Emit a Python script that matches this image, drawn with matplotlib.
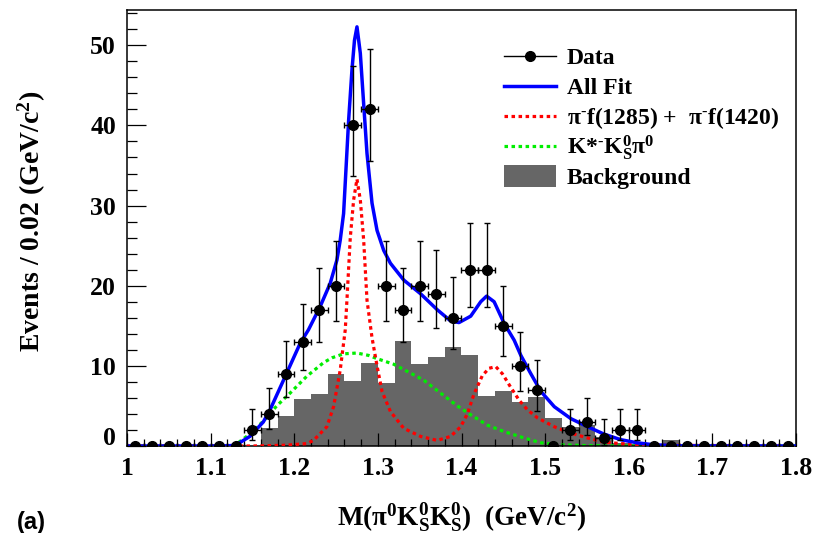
import numpy as np
import matplotlib
matplotlib.use('Agg')
import matplotlib.pyplot as plt
import matplotlib.transforms as mtransforms
from matplotlib.lines import Line2D
from matplotlib.patches import Rectangle
from matplotlib.ticker import MultipleLocator

plt.rcParams['font.family'] = 'Liberation Serif'
plt.rcParams['font.weight'] = 'bold'
plt.rcParams['axes.labelweight'] = 'bold'
plt.rcParams['mathtext.fontset'] = 'custom'
plt.rcParams['mathtext.rm'] = 'Liberation Serif:bold'
plt.rcParams['mathtext.it'] = 'Liberation Serif:bold'
plt.rcParams['mathtext.bf'] = 'Liberation Serif:bold'

W, H = 814, 533

# binning: 40 bins of 0.02 GeV between 1.0 and 1.8
edges = np.linspace(1.0, 1.8, 41)
centers = 0.5 * (edges[:-1] + edges[1:])

data_counts = [0, 0, 0, 0, 0, 0, 0,
               2, 4, 9, 13, 17, 20, 40, 42, 20, 17, 20, 19, 16, 22, 22,
               15, 10, 7, 0, 2, 3, 1, 2, 2,
               0, 0, 0, 0, 0, 0, 0, 0, 0]

bkg_counts = [0, 0, 0, 0, 0, 0, 0, 0,
              2.2, 3.8, 5.9, 6.5, 9.0, 8.1, 10.4, 7.9, 13.1, 10.2, 11.1, 12.3,
              11.3, 6.2, 6.9, 5.5, 6.1, 3.5, 2.4, 2.6, 1.1, 0.4,
              0.2, 0.2, 0.8, 0, 0, 0, 0, 0, 0, 0]

# total fit
fit_x = [1.00, 1.10, 1.12, 1.13, 1.147, 1.163, 1.171, 1.191, 1.207, 1.217,
         1.231, 1.243, 1.251, 1.255, 1.259, 1.265, 1.269, 1.272, 1.275, 1.279,
         1.283, 1.287, 1.293, 1.299, 1.307, 1.315, 1.331, 1.351, 1.371, 1.387,
         1.397, 1.411, 1.423, 1.430, 1.439, 1.451, 1.463, 1.471, 1.483, 1.495,
         1.511, 1.531, 1.551, 1.570, 1.590, 1.610, 1.630, 1.660, 1.80]
fit_y = [0, 0, 0.02, 0.1, 1.2, 3.0, 4.5, 9.1, 12.8, 14.5,
         17.4, 20.3, 23.2, 25.7, 29.0, 40.6, 46.9, 50.6, 52.3, 49.0,
         42.7, 36.5, 30.3, 26.9, 24.4, 22.8, 20.7, 19.0, 17.0, 15.6,
         15.4, 16.2, 18.0, 18.7, 18.0, 15.3, 13.2, 11.3, 9.0, 6.8,
         4.9, 3.4, 2.4, 1.5, 0.8, 0.4, 0.15, 0.02, 0]

# pi- f(1285) + pi- f(1420)
sig_x = [1.00, 1.15, 1.19, 1.215, 1.223, 1.239, 1.247, 1.255, 1.261, 1.263,
         1.267, 1.271, 1.275, 1.279, 1.283, 1.287, 1.293, 1.299, 1.305, 1.315,
         1.331, 1.351, 1.371, 1.387, 1.399, 1.407, 1.415, 1.425, 1.433, 1.441,
         1.449, 1.459, 1.469, 1.479, 1.491, 1.511, 1.531, 1.551, 1.570, 1.590,
         1.630, 1.80]
sig_y = [0, 0, 0.1, 0.3, 0.7, 2.4, 4.9, 9.5, 14.5, 18.2,
         26.0, 30.7, 33.3, 30.7, 25.7, 18.2, 13.5, 10.0, 6.8, 4.3,
         2.2, 1.2, 0.7, 1.2, 2.4, 4.0, 6.5, 8.8, 9.7, 9.9,
         9.0, 7.3, 5.7, 4.5, 3.5, 2.4, 1.6, 1.0, 0.5, 0.3,
         0.1, 0]

# K*- KS pi0
kst_x = [1.00, 1.12, 1.129, 1.147, 1.163, 1.179, 1.195, 1.215, 1.235, 1.245,
         1.259, 1.275, 1.289, 1.299, 1.319, 1.339, 1.355, 1.375, 1.395, 1.411,
         1.431, 1.451, 1.475, 1.495, 1.52, 1.55, 1.60, 1.80]
kst_y = [0, 0, 0.1, 1.5, 3.1, 5.0, 6.6, 8.7, 10.4, 11.0,
         11.5, 11.6, 11.3, 10.9, 10.2, 9.1, 8.2, 6.6, 5.0, 3.9,
         2.6, 1.8, 1.0, 0.4, 0.15, 0.05, 0, 0]

# asymmetric poisson errors (Gehrels approximation)
n = np.array(data_counts, dtype=float)
err_hi = np.where(n > 0, np.sqrt(n + 0.75) + 1.0, 0.0)
lo_lim = n * (1 - 1 / (9 * np.maximum(n, 1)) - 1 / (3 * np.sqrt(np.maximum(n, 1)))) ** 3
err_lo = np.where(n > 0, n - lo_lim, 0.0)

GREEN = '#00ee00'
GRAY = '#666666'
DOTS = (0, (1.1, 1.1))

fig = plt.figure(figsize=(W / 100, H / 100), dpi=100)
ax = fig.add_axes([127 / W, 87 / H, 669 / W, 436 / H])

ax.stairs(bkg_counts, edges, fill=True, color=GRAY, zorder=1)
ax.plot(kst_x, kst_y, color=GREEN, lw=2.3, ls=DOTS, zorder=2)
ax.plot(sig_x, sig_y, color='red', lw=2.3, ls=DOTS, zorder=3)
ax.plot(fit_x, fit_y, color='blue', lw=2.5, zorder=4)
ax.errorbar(centers, data_counts, xerr=0.01, yerr=[err_lo, err_hi], fmt='o',
            color='black', ms=7, elinewidth=1.0, capsize=2.2, capthick=1.0,
            zorder=5)

ax.set_xlim(1.0, 1.8)
ax.set_ylim(0, 54.4)
ax.xaxis.set_minor_locator(MultipleLocator(0.02))
ax.yaxis.set_major_locator(MultipleLocator(10))
ax.yaxis.set_minor_locator(MultipleLocator(2))
ax.set_xticks(np.arange(1.0, 1.81, 0.1))
ax.set_xticklabels(['1', '1.1', '1.2', '1.3', '1.4', '1.5', '1.6', '1.7', '1.8'])
ax.set_yticks([0, 10, 20, 30, 40, 50])
ax.set_yticklabels(['0', '10', '20', '30', '40', '50'])
ax.tick_params(which='both', direction='in', top=False, right=False,
               labelsize=18.5, width=0.9, pad=8)
ax.tick_params(axis='y', which='major', length=13.5)
ax.tick_params(axis='y', which='minor', length=7)
ax.tick_params(axis='x', which='major', length=9.5)
ax.tick_params(axis='x', which='minor', length=5)
for s in ax.spines.values():
    s.set_linewidth(1.1)

# the "0" on the y axis sits a little above the corner
zero_lab = ax.yaxis.get_major_ticks()[0].label1
zero_lab.set_transform(zero_lab.get_transform() +
                       mtransforms.ScaledTranslation(0, 10 / 100, fig.dpi_scale_trans))

ax.set_xlabel(r'M(π$^{0}$K$^{0}_{S}$K$^{0}_{S}$)  (GeV/c$^{2}$)', fontsize=19.5,
              va='center')
ax.xaxis.set_label_coords(0.5, -0.165)
ax.set_ylabel(r'Events / 0.02 (GeV/c$^{2}$)', fontsize=20, va='center')
ax.yaxis.set_label_coords(-0.142, 0.514)

fig.text(17 / W, 1 - 523 / H, '(a)', family='Liberation Sans',
         weight='bold', fontsize=17, va='center', ha='left')


# legend drawn by hand, rows placed in pixel units from the top-left corner
def fx(px):
    return px / W


def fy(py):
    return 1 - py / H


entries = [
    ('line', dict(color='black', lw=1.0, marker='o', ms=7, markevery=[1]), 'Data'),
    ('line', dict(color='blue', lw=2.5), 'All Fit'),
    ('line', dict(color='red', lw=2.3, ls=DOTS),
     r'π$^{\text{-}}$f(1285) +  π$^{\text{-}}$f(1420)'),
    ('line', dict(color=GREEN, lw=2.3, ls=DOTS), r'K*$^{\text{-}}$K$^{0}_{S}$π$^{0}$'),
    ('box', dict(color=GRAY), 'Background'),
]
row0, step = 56, 29.9
for i, (kind, style, label) in enumerate(entries):
    yc = row0 + i * step
    if kind == 'line':
        fig.add_artist(Line2D([fx(504), fx(530), fx(556)], [fy(yc)] * 3,
                              transform=fig.transFigure, **style))
    else:
        fig.add_artist(Rectangle((fx(504), fy(yc + 11)), fx(556) - fx(504),
                                 22 / H, transform=fig.transFigure,
                                 lw=0, **style))
    fig.text(fx(567), fy(yc + 8), label, fontsize=17, va='baseline', ha='left')

fig.savefig('out.png', dpi=100)
